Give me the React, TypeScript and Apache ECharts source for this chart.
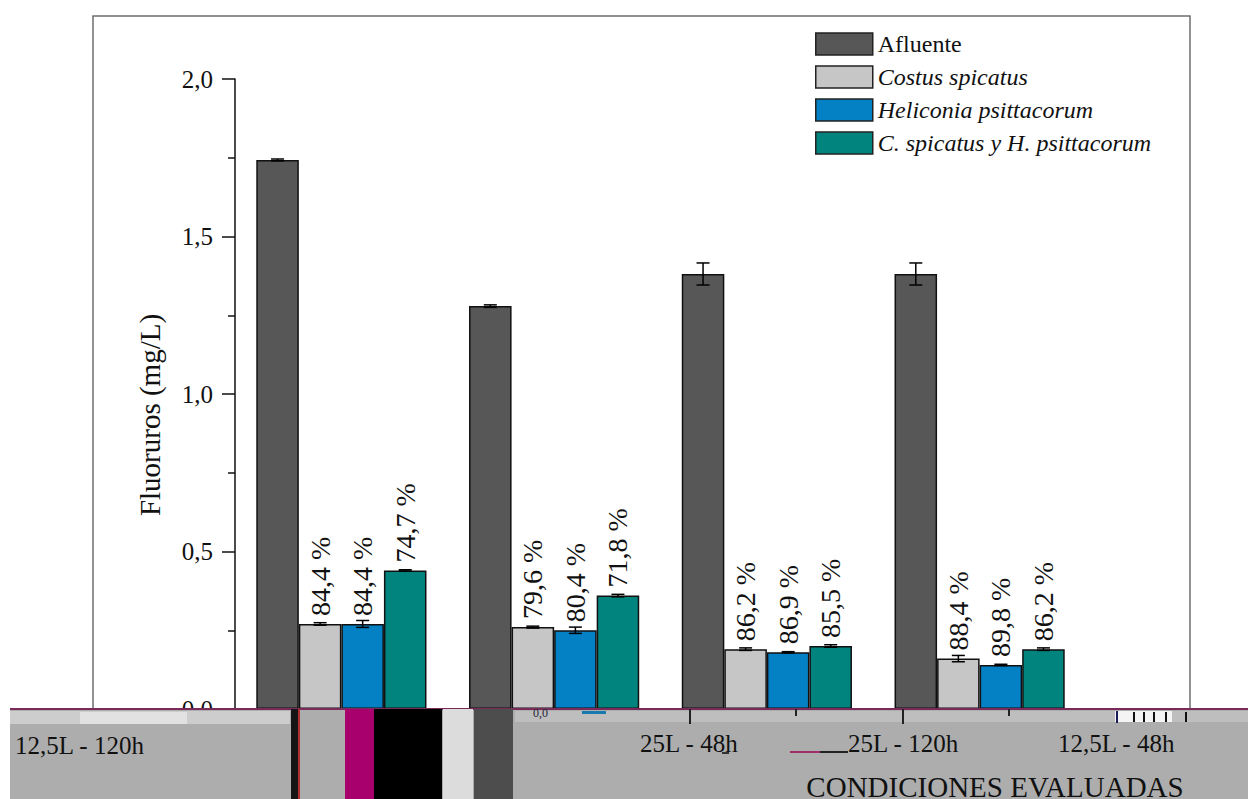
import React, { useEffect, useRef } from "react";
import * as echarts from "echarts";

const categories = ["12,5L - 120h", "25L - 48h", "25L - 120h", "12,5L - 48h"];
const seriesNames = ["Afluente", "Costus spicatus", "Heliconia psittacorum", "C. spicatus y H. psittacorum"];
const afluente = [1.743, 1.279, 1.381, 1.381];
const costus = [0.27, 0.26, 0.19, 0.16];
const heliconia = [0.27, 0.25, 0.18, 0.14];
const combinado = [0.44, 0.36, 0.2, 0.19];
const afluenteErr = [0.003, 0.004, 0.035, 0.035];
const costusErr = [0.004, 0.003, 0.004, 0.01];
const heliconiaErr = [0.011, 0.01, 0.002, 0.002];
const combinadoErr = [0.002, 0.004, 0.004, 0.004];
const costusPct = ["84,4 %", "79,6 %", "86,2 %", "88,4 %"];
const heliconiaPct = ["84,4 %", "80,4 %", "86,9 %", "89,8 %"];
const combinadoPct = ["74,7 %", "71,8 %", "85,5 %", "86,2 %"];
const yTicks = [0, 0.5, 1.0, 1.5, 2.0];
const yTitle = "Fluoruros (mg/L)";
const xTitle = "CONDICIONES EVALUADAS";

const colors = ["#575757", "#c6c6c6", "#0480c5", "#02847e"];
const FONT = "'Liberation Serif', 'Times New Roman', serif";

export default function App() {
  const ref = useRef<HTMLDivElement>(null);
  useEffect(() => {
    if (!ref.current) return;
    const chart = echarts.init(ref.current, undefined, { renderer: "svg" });
    const values = [afluente, costus, heliconia, combinado];
    const errs = [afluenteErr, costusErr, heliconiaErr, combinadoErr];
    const pcts = [null, costusPct, heliconiaPct, combinadoPct];

    const barSeries = seriesNames.map((name, si) => ({
      name,
      type: "bar",
      data: values[si],
      barGap: "0%",
      barCategoryGap: "20%",
      z: 2,
      itemStyle: { color: colors[si], borderColor: "#111", borderWidth: 1.5 },
      label: pcts[si]
        ? {
            show: true,
            position: "top",
            rotate: 90,
            align: "left",
            verticalAlign: "middle",
            distance: 8,
            fontFamily: FONT,
            fontSize: 28,
            color: "#111",
            formatter: (p: any) => (pcts[si] as string[])[p.dataIndex],
          }
        : { show: false },
    }));

    const errSeries = seriesNames.map((name, si) => ({
      name,
      type: "custom",
      z: 4,
      data: values[si].map((v, i) => [i, v, errs[si][i]]),
      encode: { x: 0, y: 1 },
      renderItem: (params: any, api: any) => {
        const ci = api.value(0);
        const v = api.value(1);
        const e = api.value(2);
        const band = api.size([1, 0])[0];
        const bw = (band * 0.8) / 4;
        const off = (si - 1.5) * bw;
        const top = api.coord([ci, v + e]);
        const bot = api.coord([ci, v - e]);
        const x = top[0] + off;
        const st = { stroke: "#000", lineWidth: 1.5 };
        return {
          type: "group",
          children: [
            { type: "line", shape: { x1: x, y1: top[1], x2: x, y2: bot[1] }, style: st },
            { type: "line", shape: { x1: x - 6.5, y1: top[1], x2: x + 6.5, y2: top[1] }, style: st },
            { type: "line", shape: { x1: x - 6.5, y1: bot[1], x2: x + 6.5, y2: bot[1] }, style: st },
          ],
        };
      },
    }));

    const bandY = 709;
    const rect = (x0: number, x1: number, y0: number, y1: number, fill: string, z = 100) => ({
      type: "rect",
      z,
      shape: { x: x0, y: y0, width: x1 - x0, height: y1 - y0 },
      style: { fill },
      silent: true,
    });
    const catLabelPos = [
      [15, 745],
      [640, 743],
      [848, 743],
      [1058, 743],
    ];

    const graphics: any[] = [
      {
        type: "rect",
        z: -10,
        shape: { x: 93, y: 16, width: 1097, height: 800 },
        style: { fill: "none", stroke: "#6e6e6e", lineWidth: 1.5 },
        silent: true,
      },
      {
        type: "text",
        z: 10,
        x: 150,
        y: 415,
        rotation: Math.PI / 2,
        style: {
          text: yTitle,
          fontFamily: FONT,
          fontSize: 29,
          fill: "#111",
          align: "center",
          verticalAlign: "middle",
        },
      },
      rect(10, 1248, bandY, 799, "#adadad"),
      rect(10, 1248, bandY - 1, bandY + 1, "#7a2a5a", 101),
      rect(10, 290, 711, 724, "#cdcdcd", 101),
      rect(80, 187, 712, 724, "#e2e2e2", 102),
      rect(515, 1248, 711, 722, "#bebebe", 101),
      rect(1115, 1172, 711, 722, "#f4f4f4", 102),
      rect(1116, 1118, 711, 723, "#1a1a5a", 103),
      rect(1133, 1135, 712, 722, "#111", 103),
      rect(1143, 1145, 712, 722, "#111", 103),
      rect(1153, 1155, 712, 722, "#111", 103),
      rect(1165, 1167, 712, 722, "#111", 103),
      rect(1185, 1187, 712, 722, "#111", 103),
      rect(689, 691, 709, 724, "#222", 103),
      rect(795, 797, 709, 716, "#222", 103),
      rect(902, 904, 709, 724, "#222", 103),
      rect(1008, 1010, 709, 716, "#222", 103),
      rect(291, 298, bandY, 799, "#151515", 102),
      rect(298, 300, bandY, 799, "#b03030", 102),
      rect(345, 374, bandY, 799, "#a8006c", 102),
      rect(374, 442, bandY, 799, "#000000", 102),
      rect(443, 473, bandY, 799, "#dcdcdc", 102),
      rect(474, 513, bandY, 799, "#4d4d4d", 102),
      rect(582, 606, 711, 714, "#1a7ab0", 103),
      rect(790, 820, 751, 753, "#a0306a", 103),
      rect(820, 848, 751, 753, "#222", 103),
      rect(722, 729, 752, 754, "#333", 103),
      {
        type: "text",
        z: 104,
        x: 533,
        y: 713,
        style: { text: "0,0", fontFamily: FONT, fontSize: 12, fill: "#223", align: "left", verticalAlign: "middle" },
      },
      ...categories.map((c, i) => ({
        type: "text",
        z: 104,
        x: catLabelPos[i][0],
        y: catLabelPos[i][1],
        style: {
          text: c,
          fontFamily: FONT,
          fontSize: 25,
          fill: "#111",
          align: "left",
          verticalAlign: "middle",
        },
      })),
      {
        type: "text",
        z: 104,
        x: 995,
        y: 787,
        style: {
          text: xTitle,
          fontFamily: FONT,
          fontSize: 29,
          fill: "#111",
          align: "center",
          verticalAlign: "middle",
        },
      },
    ];

    chart.setOption({
      animation: false,
      backgroundColor: "#ffffff",
      textStyle: { fontFamily: FONT },
      grid: { left: 235, top: 79, width: 851, height: 630, containLabel: false },
      legend: {
        data: seriesNames,
        orient: "vertical",
        left: 815,
        top: 32,
        padding: 0,
        itemWidth: 57,
        itemHeight: 22,
        itemGap: 9,
        icon: "rect",
        itemStyle: { borderColor: "#222", borderWidth: 1.5 },
        textStyle: {
          fontFamily: FONT,
          fontSize: 24,
          color: "#111",
          rich: {
            n: { fontFamily: FONT, fontSize: 24, color: "#111" },
            i: { fontFamily: FONT, fontSize: 24, fontStyle: "italic", color: "#111" },
          },
        },
        formatter: (n: string) => (n === "Afluente" ? `{n|${n}}` : `{i|${n}}`),
      },
      xAxis: {
        type: "category",
        data: categories,
        axisLine: { show: false },
        axisTick: { show: false },
        axisLabel: { show: false },
        splitLine: { show: false },
      },
      yAxis: {
        type: "value",
        min: yTicks[0],
        max: yTicks[yTicks.length - 1],
        interval: 0.5,
        axisLine: { show: true, lineStyle: { color: "#111", width: 1.5 } },
        axisTick: { show: true, length: 13, inside: false, lineStyle: { color: "#111", width: 1.5 } },
        minorTick: { show: true, splitNumber: 2, length: 7, lineStyle: { color: "#111", width: 1.5 } },
        splitLine: { show: false },
        axisLabel: {
          fontFamily: FONT,
          fontSize: 25,
          color: "#111",
          margin: 22,
          formatter: (v: number) => v.toFixed(1).replace(".", ","),
        },
      },
      series: [...barSeries, ...errSeries],
      graphic: { elements: graphics },
    } as any);
    return () => chart.dispose();
  }, []);
  return (
    <div
      ref={ref}
      style={{ position: "fixed", left: 0, top: 0, width: 1248, height: 799, background: "#fff" }}
    />
  );
}
